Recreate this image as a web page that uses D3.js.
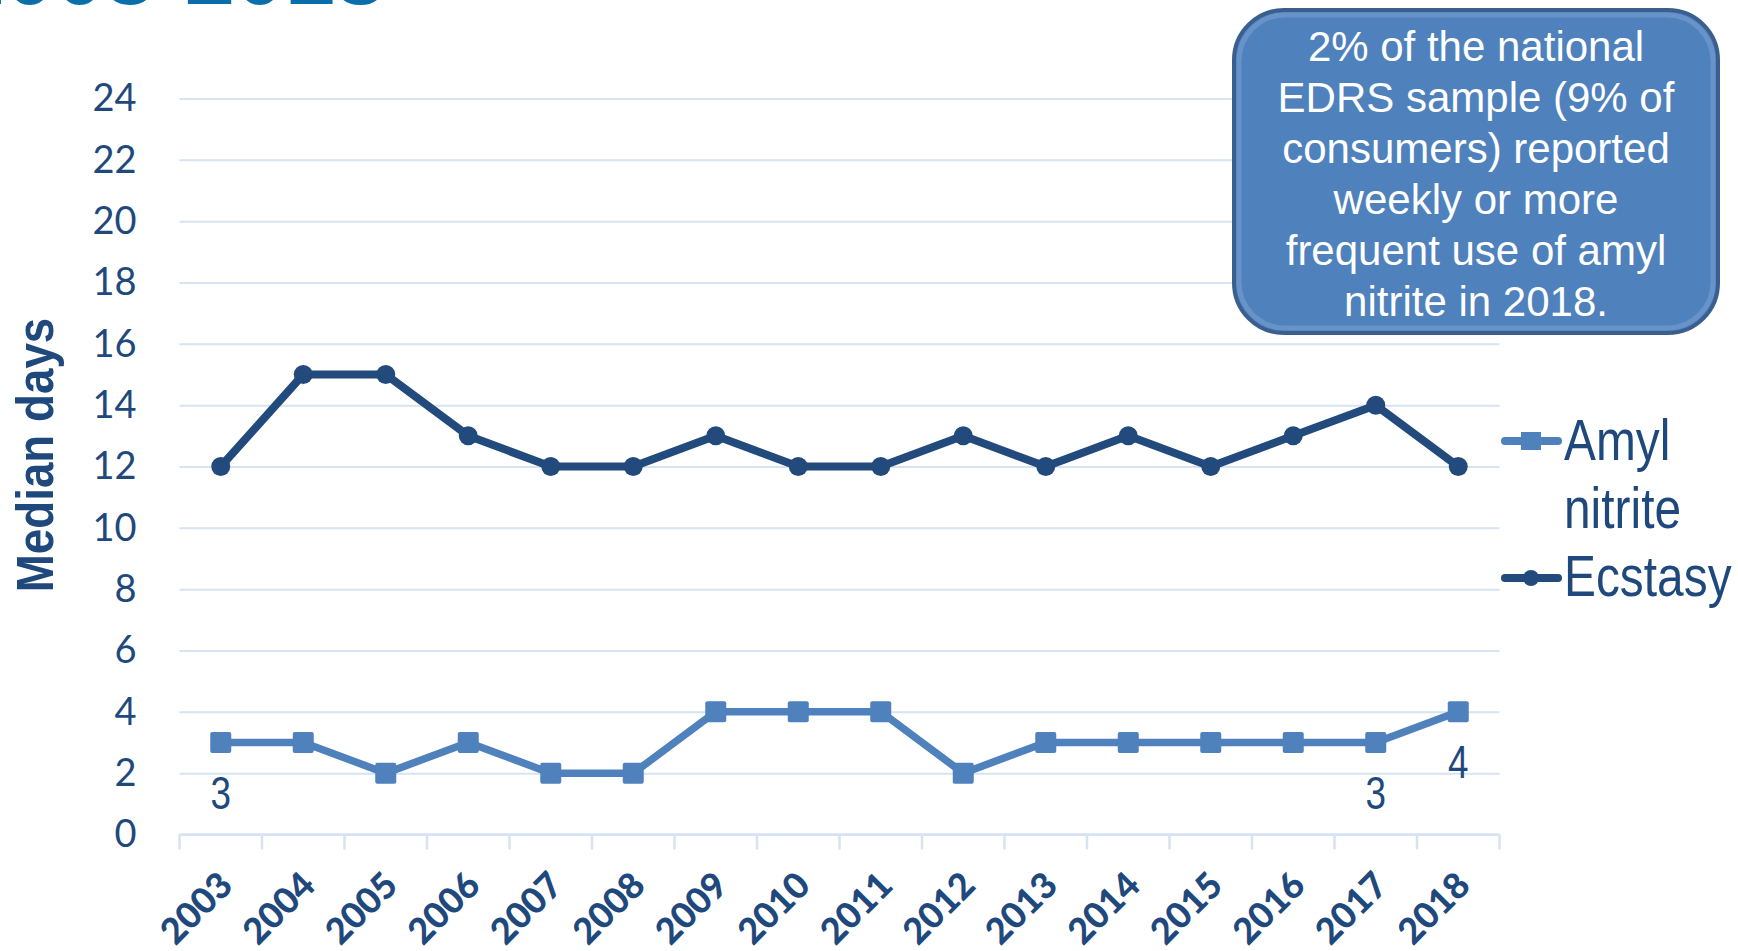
<!DOCTYPE html>
<html>
<head>
<meta charset="utf-8">
<script src="https://cdn.jsdelivr.net/npm/d3@7"></script>
<style>
  body { margin: 0; background: #fff; overflow: hidden; }
</style>
</head>
<body>
<div id="chart"></div>
<script>
// data
const years = ["2003","2004","2005","2006","2007","2008","2009","2010","2011","2012","2013","2014","2015","2016","2017","2018"];
const ecstasy = [12,15,15,13,12,12,13,12,12,13,12,13,12,13,14,12];
const amylNitrite = [3,3,2,3,2,2,4,4,4,2,3,3,3,3,3,4];
const yTicks = [0,2,4,6,8,10,12,14,16,18,20,22,24];
const labelledYears = ["2003","2017","2018"];
const noteLines = ["2% of the national", "EDRS sample (9% of", "consumers) reported", "weekly or more", "frequent use of amyl", "nitrite in 2018."];

const W = 1738, H = 951;
const margin = {top: 98.5, right: 238.5, bottom: 116.5, left: 179.5},
      width = W - margin.left - margin.right,
      height = H - margin.top - margin.bottom;

const darkBlue = "#1f497d", ecsBlue = "#234a7c", midBlue = "#4f81bd", gridCol = "#d6e3f3";
const sans = "'Liberation Sans', Arial, sans-serif";

const svgRoot = d3.select("#chart").append("svg")
  .attr("width", W).attr("height", H);

// title, cut off at the top of the slide
svgRoot.append("text")
  .attr("x", 385).attr("y", 4)
  .attr("text-anchor", "end")
  .style("font-family", sans)
  .style("font-weight", "bold")
  .style("font-size", "90px")
  .style("fill", "#0a6eab")
  .text("2003-2018");

const svg = svgRoot.append("g")
  .attr("transform", `translate(${margin.left},${margin.top})`);

const x = d3.scaleBand().domain(years).range([0, width]).padding(0);
const y = d3.scaleLinear().domain([0, 24]).range([height, 0]);
const cx = d => x(d) + x.bandwidth() / 2;

// gridlines + y labels
const yAxis = svg.append("g")
  .call(d3.axisLeft(y).tickValues(yTicks).tickSize(-width).tickPadding(43).tickFormat(d3.format("d")));
yAxis.select(".domain").remove();
yAxis.selectAll("line").attr("stroke", gridCol).attr("stroke-width", 2);
yAxis.selectAll("text")
  .style("font-family", "Lato, sans-serif")
  .style("font-size", "38px")
  .style("fill", darkBlue);

// bottom axis, ticks sit on the band edges
svg.append("line")
  .attr("x1", 0).attr("x2", width).attr("y1", height).attr("y2", height)
  .attr("stroke", gridCol).attr("stroke-width", 2.5);
svg.selectAll(".xtick")
  .data(years.map(d => x(d)).concat([width]))
  .enter().append("line")
  .attr("x1", d => d).attr("x2", d => d)
  .attr("y1", height).attr("y2", height + 15)
  .attr("stroke", gridCol).attr("stroke-width", 2.5);

svg.selectAll(".xlabel")
  .data(years)
  .enter().append("text")
  .attr("transform", d => `translate(${cx(d) + 5},${height + 44}) rotate(-45)`)
  .attr("text-anchor", "end")
  .attr("dy", "0.35em")
  .style("font-family", "Lato, sans-serif")
  .style("font-weight", "900")
  .style("font-size", "36px")
  .style("fill", darkBlue)
  .text(d => d);

// y title (squeezed to look condensed)
svgRoot.append("text")
  .attr("transform", `translate(53,455) rotate(-90) scale(0.88,1)`)
  .attr("text-anchor", "middle")
  .style("font-family", sans)
  .style("font-weight", "bold")
  .style("font-size", "52px")
  .style("fill", darkBlue)
  .text("Median days");

// series
const line = d3.line().x(d => cx(d.year)).y(d => y(d.value));
const ecsData = years.map((yr, i) => ({year: yr, value: ecstasy[i]}));
const amylData = years.map((yr, i) => ({year: yr, value: amylNitrite[i]}));

svg.append("path").datum(amylData)
  .attr("d", line).attr("fill", "none")
  .attr("stroke", midBlue).attr("stroke-width", 7.5).attr("stroke-linejoin", "round");
svg.selectAll(".sq").data(amylData).enter().append("rect")
  .attr("x", d => cx(d.year) - 10.5).attr("y", d => y(d.value) - 10.5)
  .attr("width", 21).attr("height", 21).attr("rx", 2)
  .attr("fill", midBlue);

svg.append("path").datum(ecsData)
  .attr("d", line).attr("fill", "none")
  .attr("stroke", ecsBlue).attr("stroke-width", 8).attr("stroke-linejoin", "round");
svg.selectAll(".dot").data(ecsData).enter().append("circle")
  .attr("cx", d => cx(d.year)).attr("cy", d => y(d.value)).attr("r", 9.5)
  .attr("fill", ecsBlue);

// data labels under some amyl points
svg.selectAll(".dlabel")
  .data(amylData.filter(d => labelledYears.includes(d.year)))
  .enter().append("text")
  .attr("transform", d => `translate(${cx(d.year)},${y(d.value) + 50}) scale(0.8,1)`)
  .attr("text-anchor", "middle").attr("dy", "0.35em")
  .style("font-family", sans)
  .style("font-size", "46px")
  .style("fill", darkBlue)
  .text(d => d.value);

// legend
const legend = svgRoot.append("g");
const legendItems = [
  {name: ["Amyl", "nitrite"], color: midBlue, marker: "square", my: 441, ty: 460},
  {name: ["Ecstasy"], color: ecsBlue, marker: "circle", my: 578, ty: 596}
];
legendItems.forEach(it => {
  legend.append("line")
    .attr("x1", 1505).attr("x2", 1558).attr("y1", it.my).attr("y2", it.my)
    .attr("stroke", it.color).attr("stroke-width", 8).attr("stroke-linecap", "round");
  if (it.marker === "square") {
    legend.append("rect").attr("x", 1521).attr("y", it.my - 9).attr("width", 20).attr("height", 18).attr("fill", it.color);
  } else {
    legend.append("circle").attr("cx", 1531).attr("cy", it.my).attr("r", 8).attr("fill", it.color);
  }
  const t = legend.append("text")
    .attr("transform", `translate(1564,${it.ty}) scale(0.84,1)`)
    .style("font-family", sans)
    .style("font-size", "57px")
    .style("fill", darkBlue);
  it.name.forEach((s, i) => t.append("tspan").attr("x", 0).attr("dy", i === 0 ? 0 : 68).text(s));
});

// callout box
const box = svgRoot.append("g");
box.append("rect")
  .attr("x", 1234).attr("y", 10).attr("width", 484).attr("height", 323).attr("rx", 50)
  .attr("fill", midBlue).attr("stroke", "#3a5f8e").attr("stroke-width", 4);
box.append("rect")
  .attr("x", 1239).attr("y", 15).attr("width", 474).attr("height", 313).attr("rx", 46)
  .attr("fill", "none").attr("stroke", "#86a8d6").attr("stroke-opacity", 0.45).attr("stroke-width", 5);
box.append("text")
  .attr("text-anchor", "middle")
  .style("font-family", sans)
  .style("font-size", "42px")
  .style("fill", "#fff")
  .selectAll("tspan").data(noteLines).enter().append("tspan")
  .attr("x", 1476).attr("y", (d, i) => 61 + i * 51)
  .text(d => d);
</script>
</body>
</html>
